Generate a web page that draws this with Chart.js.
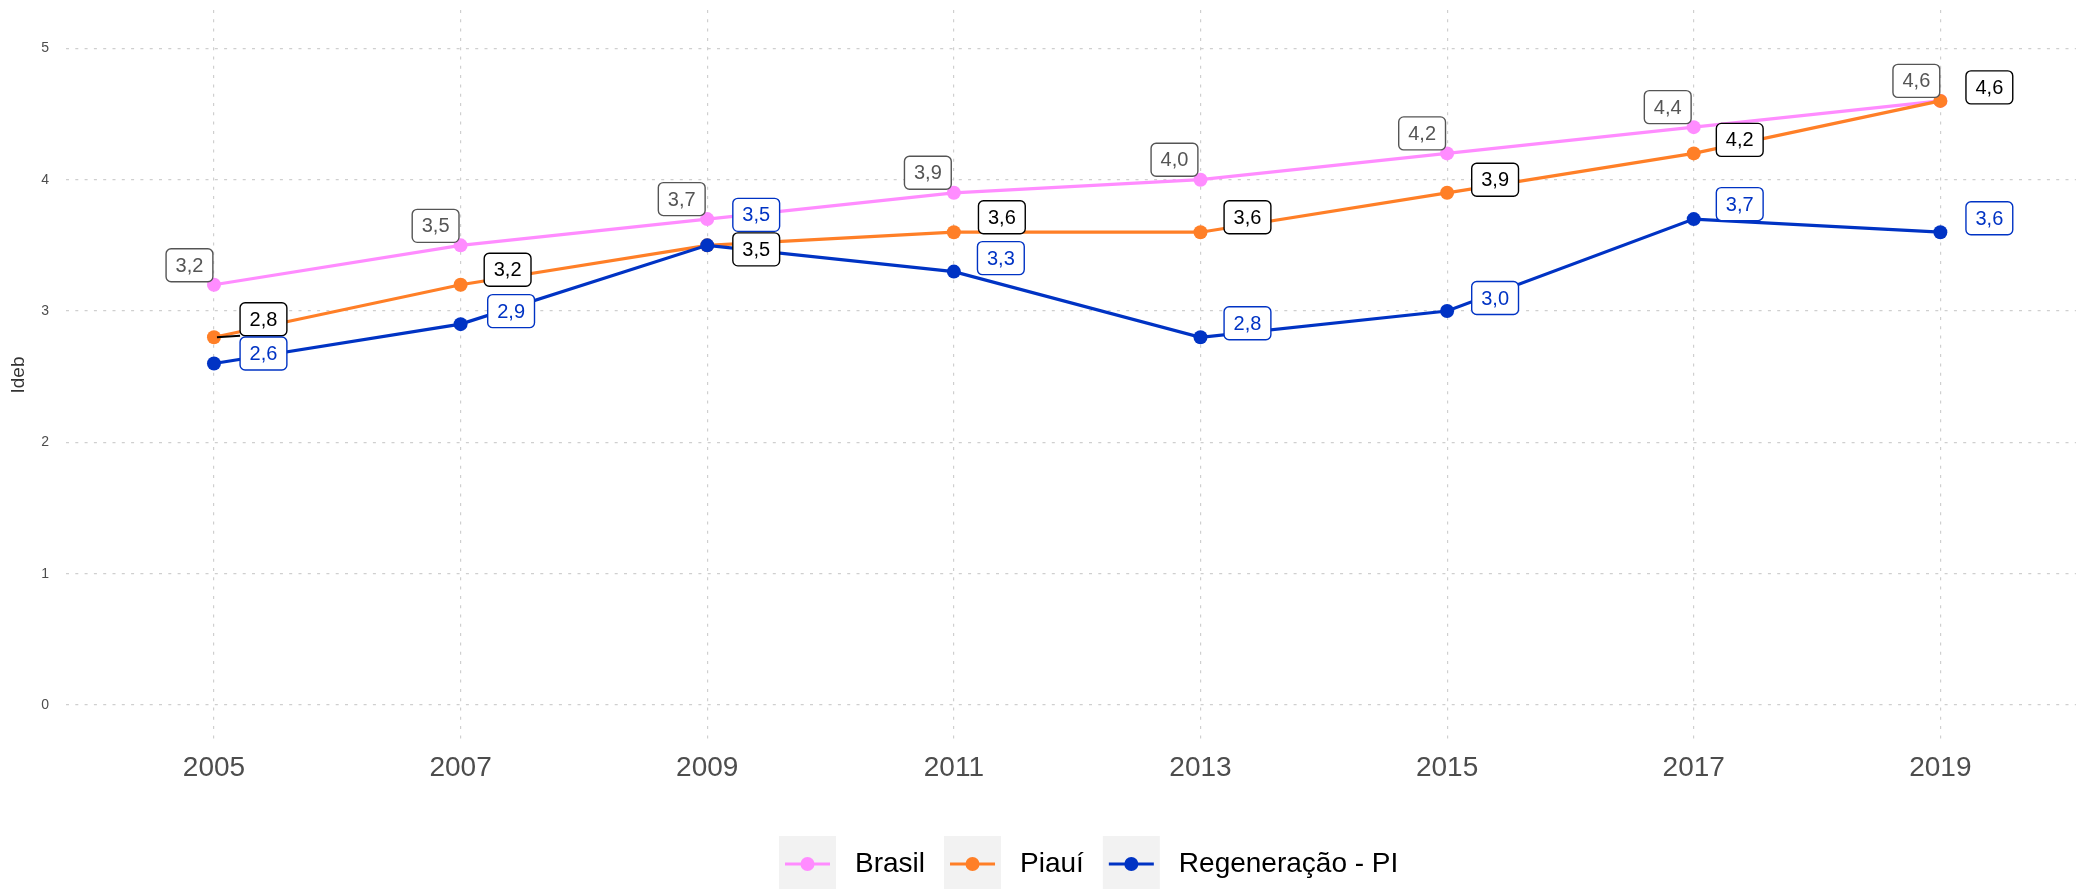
<!DOCTYPE html>
<html>
<head>
<meta charset="utf-8">
<title>Ideb</title>
<script src="https://cdn.jsdelivr.net/npm/chart.js@4.4.0/dist/chart.umd.min.js"></script>
<style>
  html, body { margin: 0; padding: 0; background: #fff; }
  #wrap { width: 2076px; height: 889px; }
</style>
</head>
<body>
<div id="wrap"><canvas id="ideb-chart" width="2076" height="889"></canvas></div>
<script>
const years = [2005, 2007, 2009, 2011, 2013, 2015, 2017, 2019];
const yTicks = [0, 1, 2, 3, 4, 5];

const brasil = [3.2, 3.5, 3.7, 3.9, 4.0, 4.2, 4.4, 4.6];
const piaui = [2.8, 3.2, 3.5, 3.6, 3.6, 3.9, 4.2, 4.6];
const regeneracao = [2.6, 2.9, 3.5, 3.3, 2.8, 3.0, 3.7, 3.6];

// where each value label sits, in px from its point (label centre)
const brasilLabelOffsets = [[-24.5, -19.5], [-25, -19.5], [-25.5, -20], [-26, -20], [-26, -20], [-25, -20], [-26, -20], [-24, -20]];
const piauiLabelOffsets = [[49.5, -18], [47, -15], [49, 4], [48, -15], [47, -15], [48, -13], [46, -13.5], [49, -13.5]];
const regeneracaoLabelOffsets = [[49.5, -10], [50.5, -13], [49, -30.5], [47, -13.5], [47, -14], [48, -13], [46, -15], [49, -14]];

const FONT = '"Liberation Sans", Arial, Helvetica, sans-serif';

const labelLayers = [
  { offsets: brasilLabelOffsets, color: "#555555", segments: [] },
  { offsets: piauiLabelOffsets, color: "#000000", segments: [0] },
  { offsets: regeneracaoLabelOffsets, color: "#0033c4", segments: [] },
];

function fmt(v) {
  return v.toFixed(1).replace(".", ",");
}

function roundRect(ctx, x, y, w, h, r) {
  ctx.beginPath();
  ctx.moveTo(x + r, y);
  ctx.arcTo(x + w, y, x + w, y + h, r);
  ctx.arcTo(x + w, y + h, x, y + h, r);
  ctx.arcTo(x, y + h, x, y, r);
  ctx.arcTo(x, y, x + w, y, r);
  ctx.closePath();
}

// boxed value labels next to every point
const valueLabels = {
  id: "valueLabels",
  afterDatasetsDraw(chart) {
    const ctx = chart.ctx;
    ctx.save();
    ctx.font = `20px ${FONT}`;
    ctx.textAlign = "center";
    ctx.textBaseline = "middle";
    chart.data.datasets.forEach((ds, di) => {
      const layer = labelLayers[di];
      const meta = chart.getDatasetMeta(di);
      meta.data.forEach((pt, i) => {
        const text = fmt(ds.data[i].y);
        const w = ctx.measureText(text).width + 19;
        const h = 33;
        const cx = pt.x + layer.offsets[i][0];
        const cy = pt.y + layer.offsets[i][1];
        const bx = cx - w / 2;
        const by = cy - h / 2;

        if (layer.segments.includes(i)) {
          const nx = Math.min(Math.max(pt.x, bx), bx + w);
          const ny = Math.min(Math.max(pt.y, by), by + h);
          ctx.strokeStyle = layer.color;
          ctx.lineWidth = 2.2;
          ctx.beginPath();
          ctx.moveTo(pt.x + 3, pt.y);
          ctx.lineTo(nx, ny);
          ctx.stroke();
        }

        roundRect(ctx, bx, by, w, h, 5);
        ctx.fillStyle = "#ffffff";
        ctx.fill();
        ctx.lineWidth = 1.4;
        ctx.strokeStyle = layer.color;
        ctx.stroke();
        ctx.fillStyle = layer.color;
        ctx.fillText(text, cx, cy + 1);
      });
    });
    ctx.restore();
  },
};

// legend under the plot, keys on grey squares
const bottomLegend = {
  id: "bottomLegend",
  afterDraw(chart) {
    const ctx = chart.ctx;
    ctx.save();
    ctx.font = `28px ${FONT}`;
    ctx.textBaseline = "middle";
    ctx.textAlign = "left";
    let x = 779;
    const top = 836;
    const keyW = 57;
    const keyH = 53;
    const mid = 864;
    chart.data.datasets.forEach((ds) => {
      ctx.fillStyle = "#f2f2f2";
      ctx.fillRect(x, top, keyW, keyH);
      ctx.strokeStyle = ds.borderColor;
      ctx.lineWidth = 3.2;
      ctx.beginPath();
      ctx.moveTo(x + 6, mid);
      ctx.lineTo(x + keyW - 6, mid);
      ctx.stroke();
      ctx.fillStyle = ds.borderColor;
      ctx.beginPath();
      ctx.arc(x + keyW / 2, mid, 7, 0, Math.PI * 2);
      ctx.fill();
      x += keyW + 19;
      ctx.fillStyle = "#000000";
      ctx.fillText(ds.label, x, mid);
      x += ctx.measureText(ds.label).width + 19;
    });
    ctx.restore();
  },
};

function series(label, values, color, order) {
  return {
    label: label,
    data: values.map((v, i) => ({ x: years[i], y: v })),
    borderColor: color,
    backgroundColor: color,
    pointBackgroundColor: color,
    pointBorderWidth: 0,
    pointRadius: 7,
    pointHoverRadius: 7,
    borderWidth: 3.2,
    tension: 0,
    order: order,
  };
}

const gridDash = [3, 6.3];

new Chart(document.getElementById("ideb-chart"), {
  type: "line",
  data: {
    datasets: [
      series("Brasil", brasil, "#ff8cff", 2),
      series("Piauí", piaui, "#ff7f27", 1),
      series("Regeneração - PI", regeneracao, "#0033c4", 0),
    ],
  },
  options: {
    responsive: false,
    animation: false,
    devicePixelRatio: 1,
    clip: false,
    layout: { autoPadding: false, padding: { top: 10, left: 0, right: 0, bottom: 0 } },
    plugins: {
      legend: { display: false },
      tooltip: { enabled: false },
    },
    scales: {
      x: {
        type: "linear",
        min: 2003.8,
        max: 2020.1,
        afterBuildTicks: (scale) => {
          scale.ticks = years.map((v) => ({ value: v }));
        },
        afterFit: (scale) => {
          scale.height = 149;
          scale.paddingLeft = 0;
          scale.paddingRight = 0;
        },
        ticks: {
          callback: (v) => String(v),
          font: { family: FONT, size: 28 },
          color: "#4d4d4d",
          padding: 11,
          maxRotation: 0,
          autoSkip: false,
        },
        grid: { color: "#cfcfcf", lineWidth: 1.2, drawTicks: false },
        border: { display: false, dash: gridDash },
      },
      y: {
        min: -0.2665,
        max: 5.292,
        afterBuildTicks: (scale) => {
          scale.ticks = yTicks.map((v) => ({ value: v }));
        },
        afterFit: (scale) => {
          scale.width = 66;
          scale.paddingTop = 0;
          scale.paddingBottom = 0;
        },
        ticks: {
          font: { family: FONT, size: 14 },
          color: "#4d4d4d",
          padding: 17,
        },
        title: {
          display: true,
          text: "Ideb",
          font: { family: FONT, size: 19 },
          color: "#333333",
          padding: { top: 7, bottom: 0 },
        },
        grid: { color: "#cfcfcf", lineWidth: 1.2, drawTicks: false },
        border: { display: false, dash: gridDash },
      },
    },
  },
  plugins: [valueLabels, bottomLegend],
});
</script>
</body>
</html>
